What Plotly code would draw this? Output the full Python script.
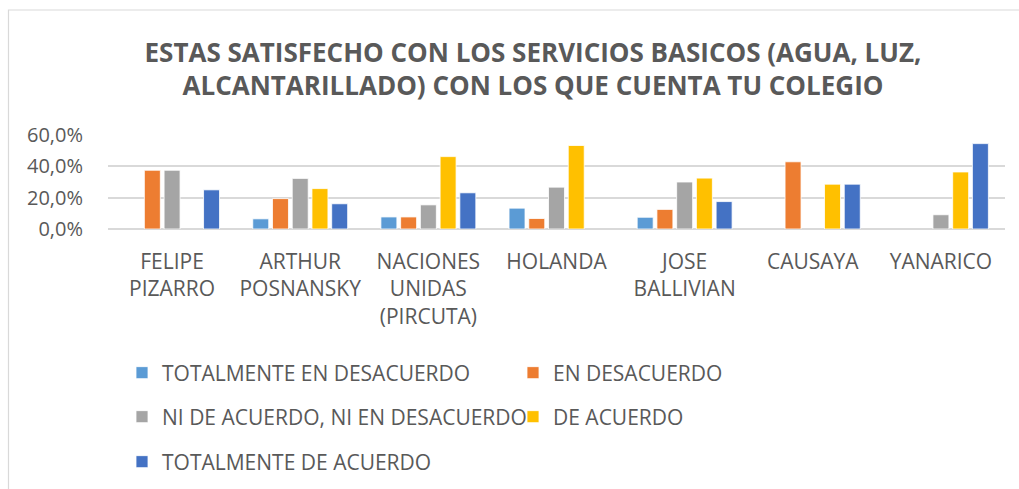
import plotly.graph_objects as go

categories = ["FELIPE<br>PIZARRO", "ARTHUR<br>POSNANSKY", "NACIONES<br>UNIDAS<br>(PIRCUTA)",
              "HOLANDA", "JOSE<br>BALLIVIAN", "CAUSAYA", "YANARICO"]
series_names = ["TOTALMENTE EN DESACUERDO", "EN DESACUERDO",
                "NI DE ACUERDO, NI EN DESACUERDO", "DE ACUERDO", "TOTALMENTE DE ACUERDO"]
totalmente_desacuerdo = [None, 6.5, 7.7, 13.3, 7.5, None, None]
en_desacuerdo = [37.5, 19.4, 7.7, 6.7, 12.5, 42.9, None]
ni_ni = [37.5, 32.3, 15.4, 26.7, 30.0, None, 9.1]
de_acuerdo = [None, 25.8, 46.2, 53.3, 32.5, 28.6, 36.4]
totalmente_acuerdo = [25.0, 16.1, 23.1, None, 17.5, 28.6, 54.5]
colors = ["#5B9BD5", "#ED7D31", "#A5A5A5", "#FFC000", "#4472C4"]
tick_vals = [0, 20, 40, 60]
tick_text = ["0,0%", "20,0%", "40,0%", "60,0%"]

series = [totalmente_desacuerdo, en_desacuerdo, ni_ni, de_acuerdo, totalmente_acuerdo]
legend_ids = ["legend", "legend", "legend2", "legend2", "legend3"]

W, H = 1019, 489
fig = go.Figure()
for name, vals, col, lg in zip(series_names, series, colors, legend_ids):
    fig.add_trace(go.Bar(x=categories, y=vals, name=name, legend=lg,
                         marker=dict(color=col, line=dict(color="white", width=0.8))))

font = "Open Sans"
gray = "#595959"
leg_common = dict(orientation="h", xref="container", yref="container", xanchor="left",
                  yanchor="middle", font=dict(family=font, size=21, color=gray),
                  entrywidth=346, itemwidth=30, bgcolor="rgba(0,0,0,0)", traceorder="normal")
fig.update_layout(
    width=W, height=H,
    paper_bgcolor="white", plot_bgcolor="white",
    margin=dict(l=108, r=14, t=135, b=260, autoexpand=False),
    barmode="group", bargap=0.23, bargroupgap=0.19,
    title=dict(text="<b>ESTAS SATISFECHO CON LOS SERVICIOS BASICOS (AGUA, LUZ,<br>ALCANTARILLADO) CON LOS QUE CUENTA TU COLEGIO</b>",
               x=533 / W, xanchor="center", xref="container",
               y=1 - 61.5 / H, yanchor="middle", yref="container",
               font=dict(family=font, size=26, color=gray)),
    legend=dict(x=122 / W, y=1 - 373 / H, **leg_common),
    legend2=dict(x=122 / W, y=1 - 417 / H, **leg_common),
    legend3=dict(x=122 / W, y=1 - 462 / H, **leg_common),
    xaxis=dict(tickfont=dict(family=font, size=21, color=gray), showline=False,
               ticks="", ticklabelstandoff=18, showgrid=False, automargin=False),
    yaxis=dict(range=[0, 60], tickvals=tick_vals, ticktext=tick_text,
               tickfont=dict(family=font, size=20, color=gray), showgrid=True,
               gridcolor="#D9D9D9", gridwidth=1.5, zeroline=True, zerolinecolor="#D9D9D9",
               zerolinewidth=1.5, ticklabelstandoff=24, automargin=False),
    shapes=[dict(type="rect", xref="paper", yref="paper",
                 x0=(8.5 - 108) / 897, x1=(1030 - 108) / 897,
                 y0=-(500 - 229) / 94, y1=(229 - 10) / 94,
                 line=dict(color="#D9D9D9", width=1.2), fillcolor="rgba(0,0,0,0)", layer="below")],
)
fig.write_html("out.html", config={"displayModeBar": False},
               post_script="document.body.style.margin='0';")
